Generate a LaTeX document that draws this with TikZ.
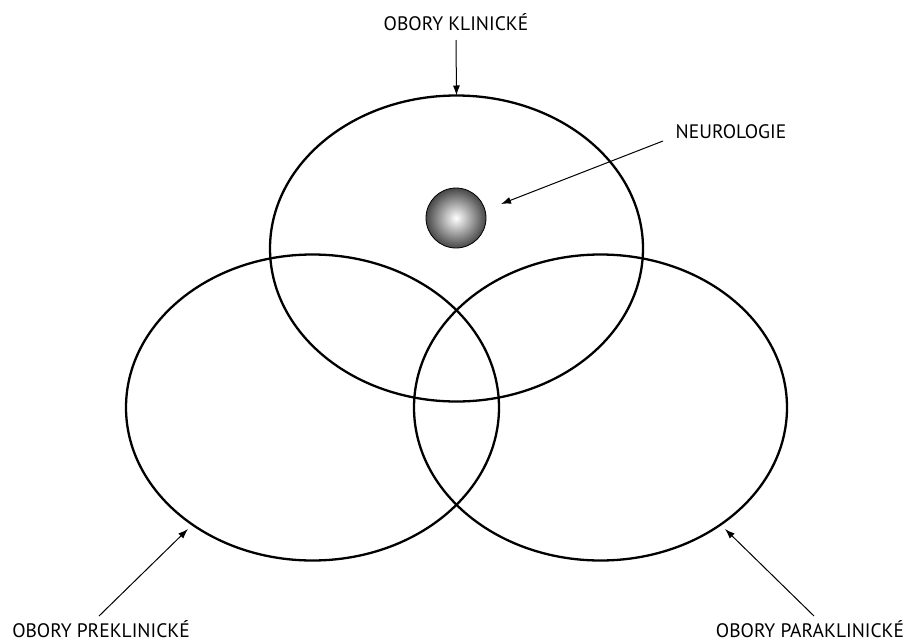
\documentclass[tikz,border=0pt]{standalone}
\usepackage{fontspec}
\setmainfont{PT Sans}
\usetikzlibrary{shapes.geometric,arrows.meta}
\tikzset{
  field/.style={draw=black, line width=2.3pt, ellipse, inner sep=0pt, outer sep=0pt,
    minimum width=373pt, minimum height=306pt},
  lbl/.style={font=\fontsize{19.5}{21}\selectfont, inner sep=0pt, anchor=base},
  pointer/.style={draw=black, line width=1pt, -{Latex[length=10pt,width=7pt]}},
}
\begin{document}
\begin{tikzpicture}[x=1pt,y=-1pt]
\useasboundingbox[fill=white] (0,0) rectangle (914,643);
% fields
\node[field] (klin) at (456.5,248.5) {};
\node[field] (pre) at (312.5,407.5) {};
\node[field] (para) at (600.5,407.5) {};
% neurology sphere
\node[circle, draw=black, line width=0.8pt, minimum size=60pt, inner sep=0pt,
  inner color=white, outer color=black!72] (neuro) at (456,218) {};
% labels
\node[lbl] (lklin) at (456,30) {OBORY KLINICKÉ};
\node[lbl] (lneuro) at (731,138) {NEUROLOGIE};
\node[lbl] (lpre) at (101,637.5) {OBORY PREKLINICKÉ};
\node[lbl] (lpara) at (810,637.5) {OBORY PARAKLINICKÉ};
% connector ends
\coordinate (sklin) at (456,40);
\coordinate (sneuro) at (663,141);
\coordinate (tneuro) at (501,204);
\coordinate (spre) at (99,616);
\coordinate (tpre) at (188,529);
\coordinate (spara) at (814,616);
\coordinate (tpara) at (725,529);
% connectors
\draw[pointer] (sklin) -- (klin.north);
\draw[pointer] (sneuro) -- (tneuro);
\draw[pointer] (spre) -- (tpre);
\draw[pointer] (spara) -- (tpara);
\end{tikzpicture}
\end{document}
